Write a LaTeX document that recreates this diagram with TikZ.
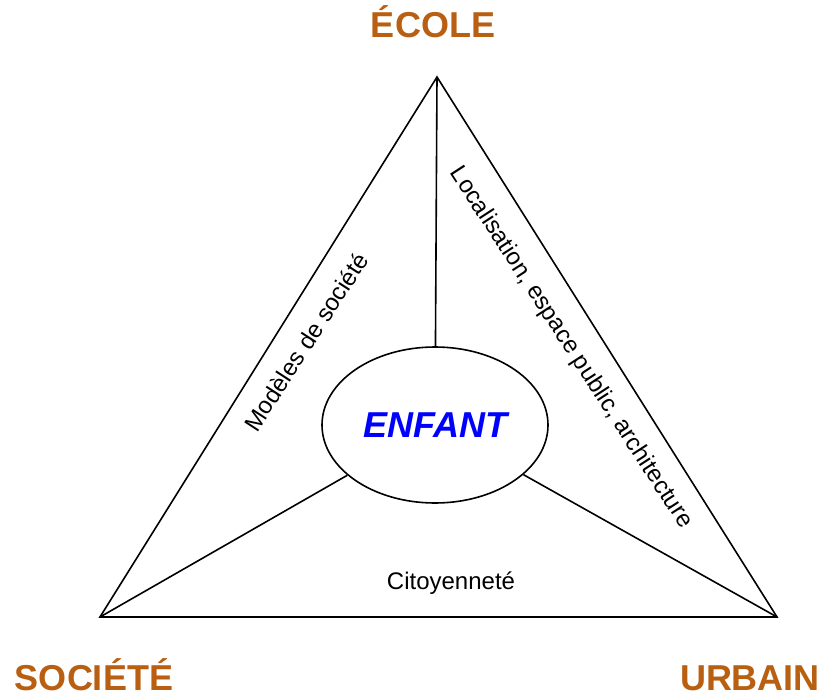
\documentclass[tikz,border=0pt]{standalone}
\usepackage{fontspec}
\setmainfont{Liberation Sans}
\usepackage{tikz}
\usepackage{xcolor}
\usetikzlibrary{calc,positioning,shapes.geometric}
\definecolor{poleorange}{RGB}{184,95,18}
\tikzset{%
	pole/.style      = {font=\fontsize{27}{32}\selectfont\bfseries, text=poleorange, anchor=base},
	centre/.style    = {draw, ellipse, line width=1.2pt, inner sep=0pt, minimum width=169.5pt, minimum height=117pt, font=\fontsize{27}{32}\selectfont\bfseries\itshape, text=blue},
	sidelabel/.style = {font=\fontsize{18}{22}\selectfont, text=black},
	link/.style      = {line width=1.2pt},
}

\begin{document}
\begin{tikzpicture}[x=0.75pt,y=-0.75pt]
	\useasboundingbox (0,0) rectangle (825,699);
	\coordinate (ecole) at (437,77);
	\coordinate (societe) at (100,617);
	\coordinate (urbain) at (777,617);
	\draw[link] (ecole) -- (societe) -- (urbain) -- cycle;
	\node[centre] (enfant) at (435,425) {ENFANT};
	\draw[link] (ecole) -- (enfant);
	\draw[link] (societe) -- (enfant);
	\draw[link] (urbain) -- (enfant);
	\node[pole] (ecolelbl) at (433,38) {ÉCOLE};
	\node[pole] (societelbl) at (94,690) {SOCIÉTÉ};
	\node[pole] (urbainlbl) at (750,690) {URBAIN};
	\node[sidelabel, rotate=57] (modeles) at (306,342) {Modèles de société};
	\node[sidelabel, rotate=-57] (localisation) at (571,348) {Localisation, espace public, architecture};
	\node[sidelabel, anchor=base] (citoyennete) at (451,589) {Citoyenneté};
\end{tikzpicture}
\end{document}
